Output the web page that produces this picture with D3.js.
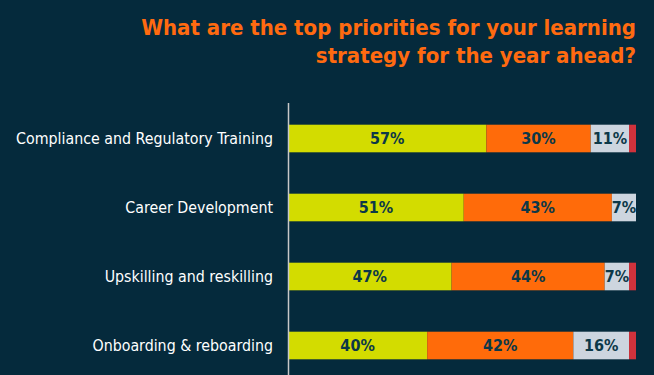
<!DOCTYPE html>
<meta charset="utf-8">
<style>
    body { margin: 0; background: #052a3c; }
    svg { display: block; }
    .title { fill: #ff6a10; font-family: "DejaVu Sans Condensed", "DejaVu Sans", sans-serif; font-weight: bold; font-size: 22px; }
    .cat { fill: #ffffff; font-family: "DejaVu Sans Condensed", "DejaVu Sans", sans-serif; font-size: 15.8px; }
    .val { fill: #0c3848; font-family: "DejaVu Sans Condensed", "DejaVu Sans", sans-serif; font-weight: bold; font-size: 16px; }
</style>
<svg width="654" height="375"></svg>
<script src="https://d3js.org/d3.v7.min.js"></script>
<script>
    var categories = ["Compliance and Regulatory Training", "Career Development", "Upskilling and reskilling", "Onboarding & reboarding"]
    var keys = ["high", "medium", "low", "none"]
    var high = [57, 51, 47, 40]
    var medium = [30, 43, 44, 42]
    var low = [11, 7, 7, 16]
    var none = [2, 0, 2, 2]
    var colors = ["#d3dc00", "#ff6b0a", "#cdd5df", "#d0323c"]

    var rows = categories.map(function(c, i) {
        return {cat: c, high: high[i], medium: medium[i], low: low[i], none: none[i]}
    })

    var svg = d3.select("svg")

    var x = d3.scaleLinear().domain([0, 1]).range([288, 636])
    var y = d3.scaleBand().domain(categories).range([104, 380]).paddingInner(0.6).paddingOuter(0.3)

    var stack = d3.stack().keys(keys).offset(d3.stackOffsetExpand)
    var series = stack(rows)

    var color = d3.scaleOrdinal().domain(keys).range(colors)

    // title
    var title = svg.append("text").attr("class", "title").attr("text-anchor", "end")
    title.append("tspan").attr("x", 636).attr("y", 35).text("What are the top priorities for your learning")
    title.append("tspan").attr("x", 636).attr("y", 63).text("strategy for the year ahead?")

    var g = svg.append("g")

    g.selectAll("g.series")
        .data(series)
        .enter().append("g")
        .attr("class", "series")
        .attr("fill", function(d) { return color(d.key) })
        .selectAll("rect")
        .data(function(d) { return d })
        .enter().append("rect")
        .attr("x", function(d) { return x(d[0]) })
        .attr("y", function(d) { return y(d.data.cat) })
        .attr("width", function(d) { return x(d[1]) - x(d[0]) })
        .attr("height", y.bandwidth())

    // value labels (skip the small red segment)
    series.slice(0, 3).forEach(function(s) {
        g.selectAll(null)
            .data(s)
            .enter().append("text")
            .attr("class", "val")
            .attr("text-anchor", "middle")
            .attr("x", function(d) { return (x(d[0]) + x(d[1])) / 2 })
            .attr("y", function(d) { return y(d.data.cat) + y.bandwidth() / 2 })
            .attr("dy", "0.36em")
            .text(function(d) { return d.data[s.key] + "%" })
    })

    // category labels
    svg.selectAll("text.cat")
        .data(categories)
        .enter().append("text")
        .attr("class", "cat")
        .attr("text-anchor", "end")
        .attr("x", 273)
        .attr("y", function(d) { return y(d) + y.bandwidth() / 2 })
        .attr("dy", "0.36em")
        .text(function(d) { return d })

    // vertical axis line
    svg.append("line")
        .attr("x1", 288.5).attr("x2", 288.5)
        .attr("y1", 103).attr("y2", 375)
        .attr("stroke", "#c8c8c8")
        .attr("stroke-width", 1.5)
</script>
